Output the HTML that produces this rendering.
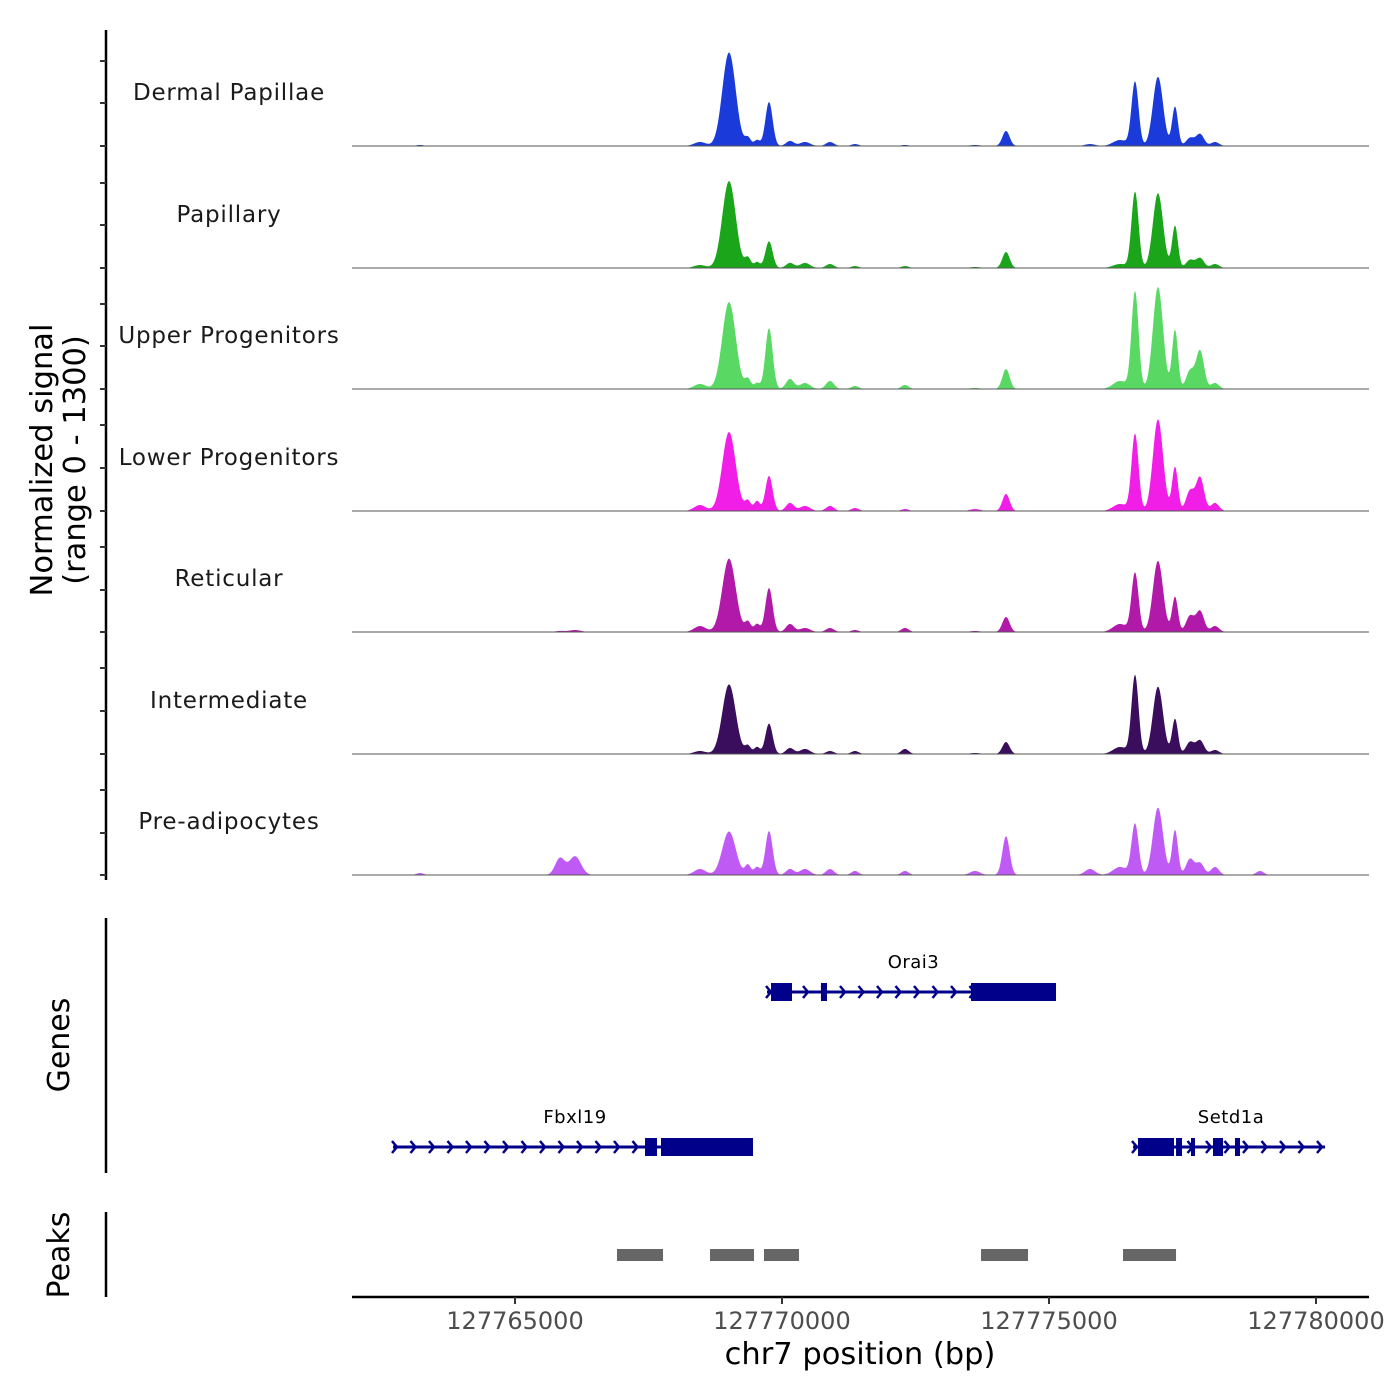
<!DOCTYPE html>
<html><head><meta charset="utf-8"><style>
html,body{margin:0;padding:0;background:#fff;}
svg{display:block;font-family:"DejaVu Sans","Liberation Sans",sans-serif;}
</style></head><body>
<svg id="chart" width="1400" height="1400" viewBox="0 0 1400 1400" xmlns="http://www.w3.org/2000/svg"></svg>
<script>
const trackNames = ["Dermal Papillae","Papillary","Upper Progenitors","Lower Progenitors","Reticular","Intermediate","Pre-adipocytes"];
const trackColors = ["#1a3bd9","#1aa51a","#59d963","#f01ee6","#b11aa8","#3a0e5c","#bf5af5"];
const peakCenters = [127763221,127765843,127766124,127768464,127769008,127769363,127769532,127769757,127770150,127770431,127770899,127771367,127772304,127773614,127774195,127775768,127776330,127776611,127777041,127777360,127777641,127777828,127778109,127778952];
const peakSigma = [70,90,110,110,125,55,55,68,75,95,75,70,70,95,68,95,130,66,95,55,75,75,75,70];
const sigDermal = [11,0,0,43,1000,86,64,470,54,43,43,21,11,11,161,21,64,685,740,420,86,128,43,0];
const sigPapillary = [0,0,0,32,930,107,64,285,54,54,43,21,21,11,171,0,43,813,800,450,86,107,43,0];
const sigUpper = [0,0,0,54,930,107,64,650,107,64,86,32,43,11,214,0,86,1040,1090,630,193,410,64,0];
const sigLower = [0,0,0,64,845,107,107,375,86,54,54,32,21,21,182,0,75,820,980,470,214,360,86,0];
const sigReticular = [0,11,21,64,785,107,86,470,86,43,43,21,43,11,161,0,86,630,760,375,171,225,64,0];
const sigIntermediate = [0,0,0,32,745,86,75,325,64,54,32,32,54,11,128,0,75,840,720,375,128,145,43,0];
const sigPreadipo = [21,180,200,64,465,107,86,470,64,64,64,43,43,43,415,64,86,545,720,480,171,128,86,43];
const xTicks = [127765000,127770000,127775000,127780000];
const genes = [
 {name:"Orai3",start:127769719,end:127775131,row:0,exons:[[127769794,127770187],[127770730,127770843],[127773540,127775131]]},
 {name:"Fbxl19",start:127762715,end:127769457,row:1,exons:[[127767435,127767659],[127767734,127769457]]},
 {name:"Setd1a",start:127776573,end:127780169,row:1,exons:[[127776667,127777341],[127777379,127777491],[127777659,127777734],[127778071,127778259],[127778483,127778577]]}
];
const peakStarts = [127766910,127768652,127769663,127773727,127776386];
const peakEnds = [127767772,127769476,127770318,127774607,127777379];

const svg = document.getElementById('chart');
const NS = "http://www.w3.org/2000/svg";
function mk(tag, attrs, parent){const e=document.createElementNS(NS,tag);for(const k in attrs)e.setAttribute(k,attrs[k]);(parent||svg).appendChild(e);return e;}
const X0=352,X1=1369;
function xs(bp){return 515 + (bp-127765000)*267/5000;}
const bpMin = 127765000 + (X0-515)*5000/267, bpMax = 127765000 + (X1-515)*5000/267;
const baselines=[146,268,389,511,632,754,875];
const trackH=121.5, vmax=1300;
const allSig=[sigDermal,sigPapillary,sigUpper,sigLower,sigReticular,sigIntermediate,sigPreadipo];

let ax=mk('line',{x1:106,y1:30,x2:106,y2:880,stroke:'#000','stroke-width':2.5});

const yt=[61,103,146,183,225,268,304,346,389,425,468,511,547,590,632,668,711,754,790,833,875];
yt.forEach(y=>{const t=mk('line',{x1:100,y1:y,x2:106,y2:y,stroke:'#333','stroke-width':2});
});
let yl=mk('text',{x:0,y:0,'font-size':30.5,'text-anchor':'middle',fill:'#000',transform:'translate(52,460) rotate(-90)'});

yl.innerHTML='<tspan x="0" dy="0">Normalized signal</tspan><tspan x="0" dy="33">(range 0 - 1300)</tspan>';

allSig.forEach((vals,ti)=>{
  const base=baselines[ti];
  const g=mk('g',{});
  
  
  let d='M'+X0+','+base;
  for(let px=X0;px<=X1;px+=0.5){
    const bp=bpMin+(px-X0)*(bpMax-bpMin)/(X1-X0);
    let v=0;
    for(let i=0;i<peakCenters.length;i++){const z=(bp-peakCenters[i])/peakSigma[i];v+=vals[i]*Math.exp(-0.5*z*z);}
    const y=base-Math.min(v,vmax)/vmax*trackH;
    d+=' L'+px.toFixed(1)+','+y.toFixed(2);
  }
  d+=' L'+X1+','+base+' Z';
  const p=mk('path',{d:d,fill:trackColors[ti],stroke:'none'},g);
  
  const bl=mk('line',{x1:X0,y1:base,x2:X1,y2:base,stroke:'#555','stroke-width':1},g);
  
  const lab=mk('text',{x:229,y:base-54+8,'font-size':23,'text-anchor':'middle',fill:'#1a1a1a','letter-spacing':'0.8'});
  lab.textContent=trackNames[ti];
  
});

let ga=mk('line',{x1:106,y1:918,x2:106,y2:1173,stroke:'#000','stroke-width':2.5});

let gt=mk('text',{x:0,y:0,'font-size':30,'text-anchor':'middle',transform:'translate(69,1045) rotate(-90)'});
gt.textContent='Genes';
const rowY=[992,1147];
genes.forEach(gn=>{
  const y=rowY[gn.row];
  const g=mk('g',{});
  
  const x1=xs(gn.start),x2=xs(gn.end);
  mk('line',{x1:x1,y1:y,x2:x2,y2:y,stroke:'#00008b','stroke-width':3},g);
  for(let ax2=x1+2;ax2<=x2;ax2+=18.5){
    mk('polyline',{points:(ax2-3)+','+(y-6)+' '+(ax2+2)+','+y+' '+(ax2-3)+','+(y+6),fill:'none',stroke:'#00008b','stroke-width':2.5},g);
  }
  gn.exons.forEach(e=>{mk('rect',{x:xs(e[0]),y:y-9,width:Math.max(4,xs(e[1])-xs(e[0])),height:18,fill:'#00008b'},g);});
  const t=mk('text',{x:(x1+x2)/2+2,y:y-24,'font-size':18,'text-anchor':'middle',fill:'#000','letter-spacing':'0.5'},g);
  t.textContent=gn.name;
});

let pa=mk('line',{x1:106,y1:1212,x2:106,y2:1297,stroke:'#000','stroke-width':2.5});

let pt=mk('text',{x:0,y:0,'font-size':30,'text-anchor':'middle',transform:'translate(69,1255) rotate(-90)'});
pt.textContent='Peaks';
peakStarts.forEach((s,i)=>{
  const r=mk('rect',{x:xs(s),y:1249,width:xs(peakEnds[i])-xs(s),height:12,fill:'#666'});
  
});

let xa=mk('line',{x1:X0,y1:1297,x2:X1,y2:1297,stroke:'#000','stroke-width':2.5});

xTicks.forEach(v=>{
  const x=xs(v);
  const t=mk('line',{x1:x,y1:1297,x2:x,y2:1304,stroke:'#333','stroke-width':2});
  
  const l=mk('text',{x:x,y:1329,'font-size':24,'text-anchor':'middle',fill:'#4d4d4d'});
  l.textContent=String(v);
});
let xt=mk('text',{x:860,y:1364,'font-size':30.5,'text-anchor':'middle',fill:'#000'});
xt.textContent='chr7 position (bp)';
</script>
</body></html>
